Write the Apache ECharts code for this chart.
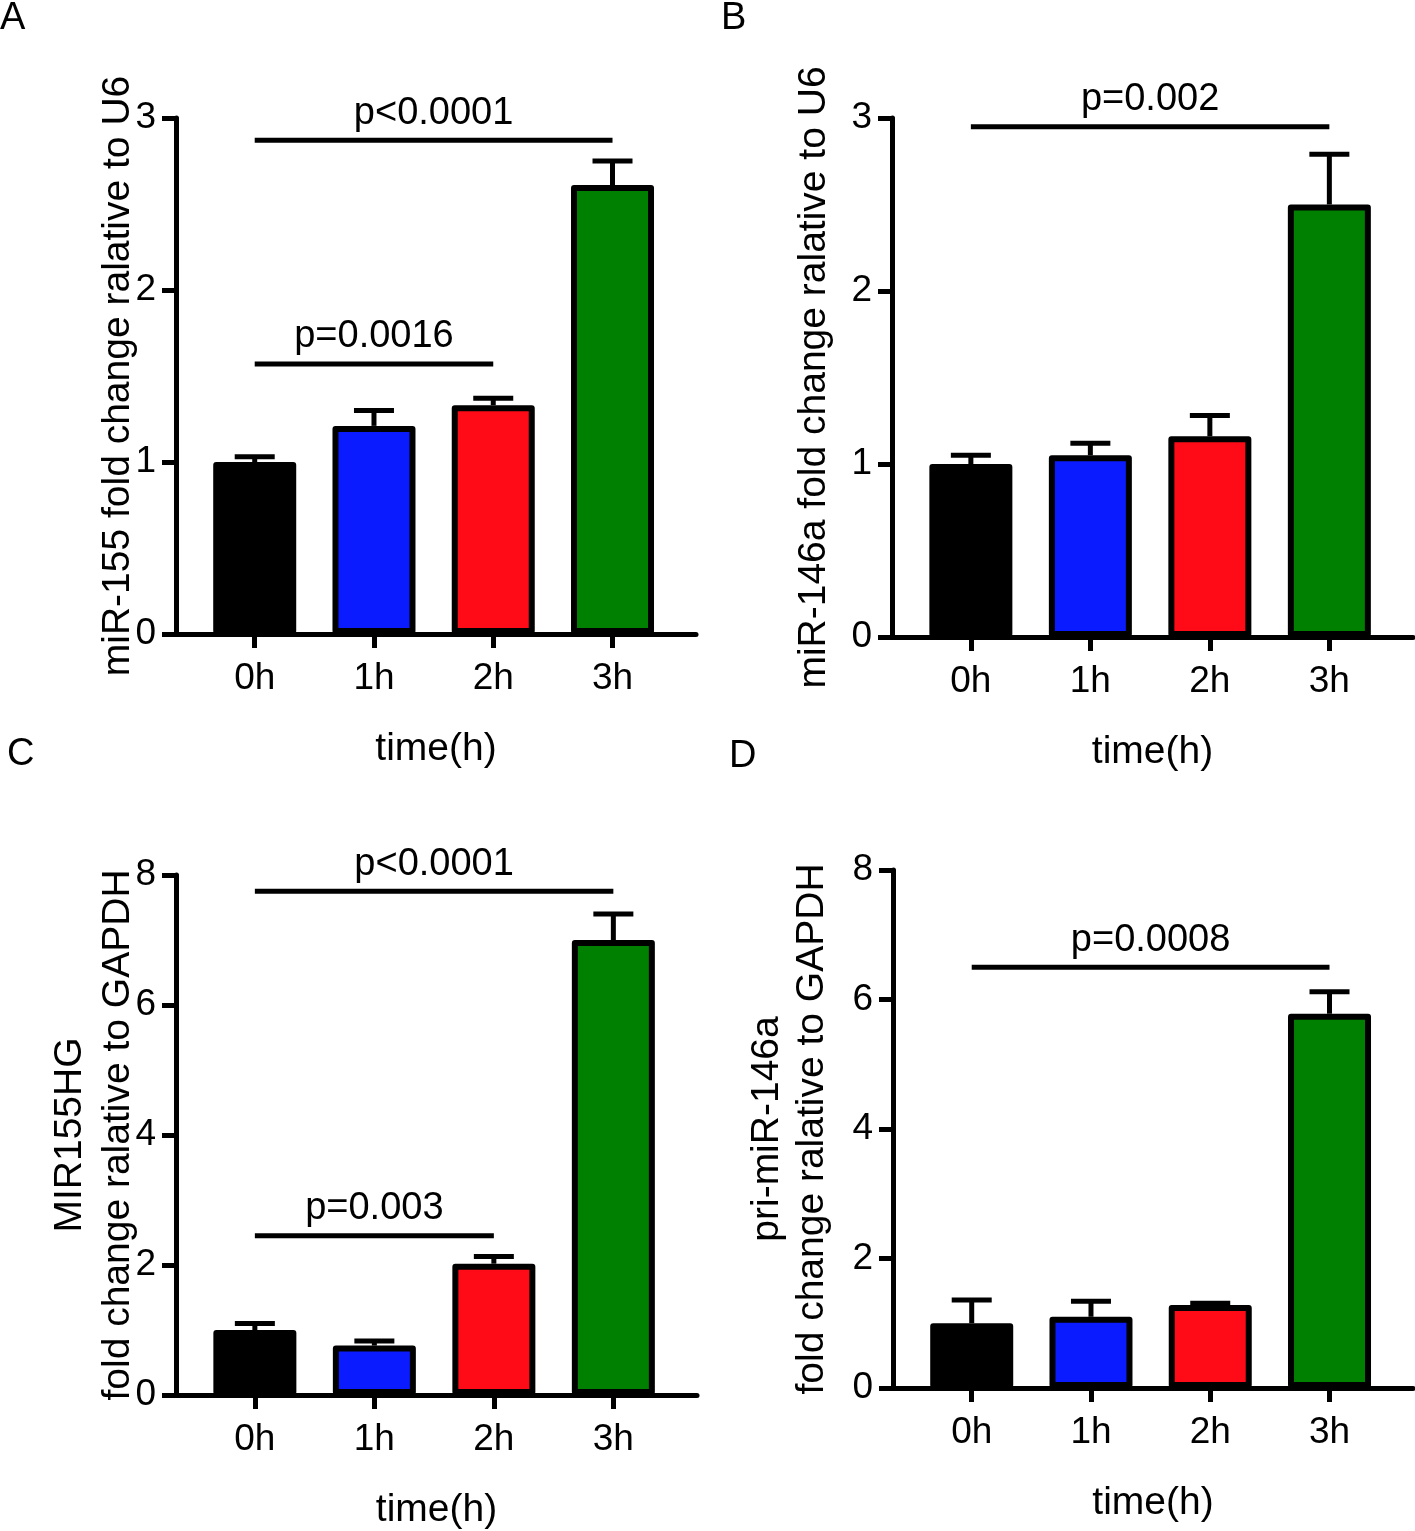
<!DOCTYPE html>
<html>
<head>
<meta charset="utf-8">
<script src="https://cdn.jsdelivr.net/npm/echarts@6/dist/echarts.min.js"></script>
<style>
  html, body { margin: 0; padding: 0; background: #fff; }
  #main { width: 1415px; height: 1531px; }
</style>
</head>
<body>
<div id="main"></div>
<script>
var categories = ['0h', '1h', '2h', '3h'];
var barColors = ['#000000', '#0b1bff', '#ff0b17', '#008000'];

// panel A: miR-155
var valuesA = [1.0, 1.21, 1.33, 2.61];
var errorsA = [0.03, 0.09, 0.04, 0.14];
var sigA = [[0, 3, 2.87, 'p<0.0001'], [0, 2, 1.57, 'p=0.0016']];

// panel B: miR-146a
var valuesB = [1.0, 1.05, 1.16, 2.50];
var errorsB = [0.05, 0.07, 0.12, 0.29];
var sigB = [[0, 3, 2.95, 'p=0.002']];

// panel C: MIR155HG
var valuesC = [1.0, 0.76, 2.02, 7.0];
var errorsC = [0.10, 0.07, 0.11, 0.40];
var sigC = [[0, 3, 7.75, 'p<0.0001'], [0, 2, 2.45, 'p=0.003']];

// panel D: pri-miR-146a
var valuesD = [1.0, 1.10, 1.28, 5.78];
var errorsD = [0.36, 0.24, 0.03, 0.34];
var sigD = [[0, 3, 6.50, 'p=0.0008']];

var font = 'Liberation Sans, Arial, sans-serif';

var panels = [
    {letter: 'A', lx: 0, ly: 0, grid: {left: 176, top: 118, width: 520, height: 516},
     max: 3, interval: 1, name: 'miR-155 fold change ralative to U6', nameGap: 38, lineHeight: 39,
     values: valuesA, errors: errorsA, sig: sigA},
    {letter: 'B', lx: 721, ly: 0, grid: {left: 892, top: 118, width: 521, height: 519},
     max: 3, interval: 1, name: 'miR-146a fold change ralative to U6', nameGap: 58, lineHeight: 39,
     values: valuesB, errors: errorsB, sig: sigB},
    {letter: 'C', lx: 7, ly: 736, grid: {left: 176, top: 875, width: 521, height: 520},
     max: 8, interval: 2, name: 'MIR155HG\nfold change ralative to GAPDH', nameGap: 34, lineHeight: 48,
     values: valuesC, errors: errorsC, sig: sigC},
    {letter: 'D', lx: 729, ly: 738, grid: {left: 893, top: 870, width: 520, height: 518},
     max: 8, interval: 2, name: 'pri-miR-146a\nfold change ralative to GAPDH', nameGap: 58, lineHeight: 45,
     values: valuesD, errors: errorsD, sig: sigD}
];

var grids = [], xAxes = [], yAxes = [], series = [], graphics = [];

panels.forEach(function (p, i) {
    grids.push(p.grid);

    xAxes.push({
        type: 'value',
        gridIndex: i,
        min: -0.66,
        max: 3.7,
        name: 'time(h)',
        nameLocation: 'middle',
        nameGap: 96,
        nameMoveOverlap: false,
        nameTextStyle: {fontFamily: font, fontSize: 39, color: '#000'},
        axisLine: {onZero: false, lineStyle: {color: '#000', width: 5}},
        axisTick: {customValues: [0, 1, 2, 3], length: 14, lineStyle: {color: '#000', width: 5}},
        axisLabel: {
            customValues: [0, 1, 2, 3],
            margin: 26,
            fontFamily: font, fontSize: 37, color: '#000',
            formatter: function (v) { return categories[Math.round(v)]; }
        },
        splitLine: {show: false}
    });

    yAxes.push({
        type: 'value',
        gridIndex: i,
        min: 0,
        max: p.max,
        interval: p.interval,
        name: p.name,
        nameLocation: 'middle',
        nameRotate: 90,
        nameGap: p.nameGap,
        nameMoveOverlap: false,
        nameTextStyle: {fontFamily: font, fontSize: 39, color: '#000', lineHeight: p.lineHeight, align: 'center'},
        axisLine: {show: true, onZero: false, lineStyle: {color: '#000', width: 5}},
        axisTick: {show: true, length: 14, lineStyle: {color: '#000', width: 5}},
        axisLabel: {margin: 20, fontFamily: font, fontSize: 37, color: '#000'},
        splitLine: {show: false}
    });

    // error bars (upper whisker only), drawn under the bars
    series.push({
        type: 'custom',
        xAxisIndex: i,
        yAxisIndex: i,
        z: 1,
        clip: false,
        data: p.values.map(function (v, k) { return [k, v, p.errors[k]]; }),
        renderItem: function (params, api) {
            var x = api.value(0), y = api.value(1), e = api.value(2);
            var p0 = api.coord([x, y]);
            var p1 = api.coord([x, y + e]);
            return {
                type: 'group',
                children: [
                    {type: 'line', shape: {x1: p0[0], y1: p0[1], x2: p1[0], y2: p1[1]},
                     style: {stroke: '#000', lineWidth: 5}},
                    {type: 'line', shape: {x1: p1[0] - 20, y1: p1[1], x2: p1[0] + 20, y2: p1[1]},
                     style: {stroke: '#000', lineWidth: 5}}
                ]
            };
        }
    });

    series.push({
        type: 'bar',
        xAxisIndex: i,
        yAxisIndex: i,
        z: 2,
        barWidth: 83,
        data: p.values.map(function (v, k) {
            return {value: [k, v], itemStyle: {color: barColors[k]}};
        }),
        itemStyle: {borderColor: '#000', borderWidth: 6, borderJoin: 'round'}
    });

    // significance brackets with p values
    series.push({
        type: 'custom',
        xAxisIndex: i,
        yAxisIndex: i,
        z: 3,
        clip: false,
        data: p.sig.map(function (s) { return [s[0], s[1], s[2]]; }),
        renderItem: function (params, api) {
            var a = api.coord([api.value(0), api.value(2)]);
            var b = api.coord([api.value(1), api.value(2)]);
            return {
                type: 'group',
                children: [
                    {type: 'line', shape: {x1: a[0], y1: a[1], x2: b[0], y2: b[1]},
                     style: {stroke: '#000', lineWidth: 5}},
                    {type: 'text', x: (a[0] + b[0]) / 2, y: a[1] - 8,
                     style: {text: p.sig[params.dataIndex][3], font: '38px ' + font, fill: '#000',
                             align: 'center', verticalAlign: 'bottom'}}
                ]
            };
        }
    });

    graphics.push({
        type: 'text', left: p.lx, top: p.ly,
        style: {text: p.letter, font: '38px ' + font, fill: '#000'}
    });
});

var chart = echarts.init(document.getElementById('main'));
chart.setOption({
    backgroundColor: '#fff',
    animation: false,
    grid: grids,
    xAxis: xAxes,
    yAxis: yAxes,
    series: series,
    graphic: graphics
});
</script>
</body>
</html>
